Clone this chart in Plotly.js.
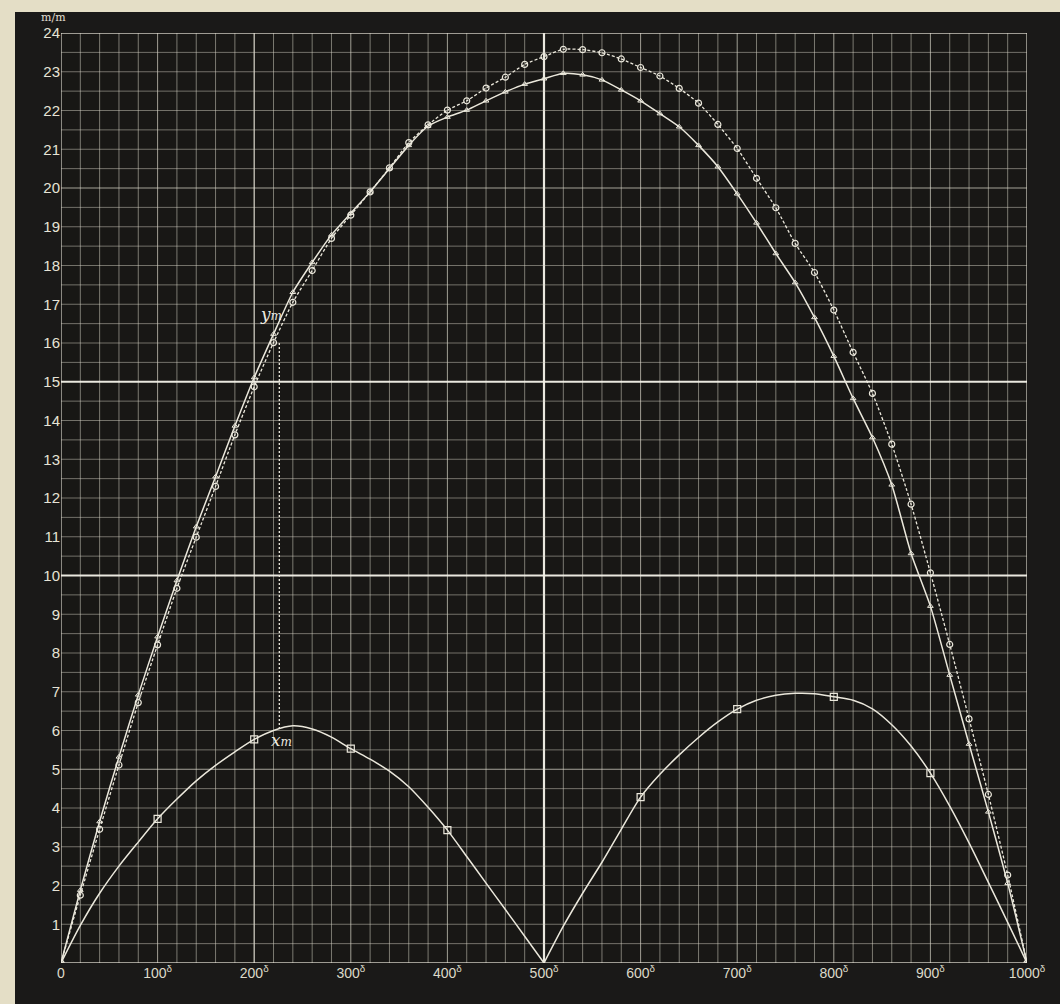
<!DOCTYPE html>
<html><head><meta charset="utf-8">
<script src="https://cdn.plot.ly/plotly-3.0.1.min.js"></script>
<style>
html,body{margin:0;padding:0;background:#e4dec6;width:1060px;height:1004px;overflow:hidden;}
#wrap{position:absolute;left:15px;top:12px;width:1045px;height:992px;background:#1a1918;}
#chart{width:1045px;height:992px;}
</style></head><body><div id="wrap"><div id="chart"></div></div>
<script>
// stations along the abscissa
const xStations = [0,20,40,60,80,100,120,140,160,180,200,220,240,260,280,300,320,340,360,380,400,420,440,460,480,500,520,540,560,580,600,620,640,660,680,700,720,740,760,780,800,820,840,860,880,900,920,940,960,980,1000];
// solid curve with triangle marks
const triY = [0,1.88,3.65,5.32,6.92,8.42,9.87,11.26,12.55,13.86,15.11,16.23,17.31,18.08,18.79,19.35,19.9,20.5,21.1,21.6,21.83,22.01,22.25,22.48,22.68,22.82,22.96,22.92,22.79,22.53,22.25,21.92,21.58,21.10,20.55,19.85,19.10,18.31,17.56,16.66,15.66,14.57,13.56,12.34,10.57,9.21,7.43,5.65,3.9,2.06,0];
// dashed curve with circle marks
const circY = [0,1.75,3.45,5.11,6.72,8.21,9.67,10.99,12.3,13.63,14.87,16.01,17.05,17.87,18.70,19.30,19.9,20.52,21.17,21.63,22.01,22.25,22.58,22.86,23.19,23.39,23.58,23.57,23.49,23.33,23.11,22.89,22.57,22.19,21.64,21.02,20.25,19.49,18.57,17.82,16.85,15.76,14.70,13.39,11.84,10.07,8.22,6.3,4.35,2.27,0];
// lower curve (two arches)
const lowerY = [0,0.97,1.8,2.5,3.12,3.72,4.23,4.7,5.1,5.45,5.77,6.0,6.12,6.04,5.83,5.53,5.26,4.95,4.55,4.02,3.43,2.75,2.06,1.38,0.69,0,0.95,1.8,2.6,3.45,4.28,4.87,5.37,5.82,6.22,6.55,6.78,6.91,6.96,6.95,6.87,6.78,6.56,6.15,5.6,4.9,4.05,3.1,2.08,1.05,0];
// square marks on lower curve
const squareX = [100,200,300,400,600,700,800,900];
const squareY = [3.72,5.77,5.53,3.43,4.28,6.55,6.87,4.9];
// x_m / y_m construction line
const xmLineX = [226,226];
const xmLineY = [16.0,6.02];
// tick labels
const xTickVals = [0,100,200,300,400,500,600,700,800,900,1000];
const xTickText = ['0','100<sup>δ</sup>','200<sup>δ</sup>','300<sup>δ</sup>','400<sup>δ</sup>','500<sup>δ</sup>','600<sup>δ</sup>','700<sup>δ</sup>','800<sup>δ</sup>','900<sup>δ</sup>','1000<sup>δ</sup>'];
const yTickVals = [1,2,3,4,5,6,7,8,9,10,11,12,13,14,15,16,17,18,19,20,21,22,23,24];

const ink = '#ebe8dc';
const shapes = [];
for (let gx = 0; gx <= 1000; gx += 20) {
  let col = 'rgba(215,212,198,0.52)', w = 1;
  if (gx % 100 === 0) { col = 'rgba(225,222,208,0.68)'; }
  if (gx === 200) { col = 'rgba(235,232,220,0.85)'; w = 1.3; }
  if (gx === 500) { col = 'rgba(242,240,230,0.97)'; w = 2.2; }
  if (gx === 0 || gx === 1000) { col = 'rgba(235,232,220,0.85)'; w = 1.3; }
  shapes.push({type:'line', layer:'below', xref:'x', yref:'y', x0:gx, x1:gx, y0:0, y1:24, line:{color:col, width:w}});
}
for (let k = 0; k <= 48; k++) {
  const gy = k/2;
  let col = 'rgba(215,212,198,0.48)', w = 1;
  if (gy % 5 === 0) { col = 'rgba(225,222,208,0.7)'; }
  if (gy === 10 || gy === 15) { col = 'rgba(242,240,230,0.97)'; w = 1.8; }
  if (gy === 0 || gy === 24) { col = 'rgba(235,232,220,0.85)'; w = 1.3; }
  shapes.push({type:'line', layer:'below', xref:'x', yref:'y', x0:0, x1:1000, y0:gy, y1:gy, line:{color:col, width:w}});
}

const lowerLeftX = xStations.slice(0,26), lowerLeftY = lowerY.slice(0,26);
const lowerRightX = xStations.slice(25), lowerRightY = lowerY.slice(25);

const traces = [
  {x:xStations, y:circY, mode:'lines+markers', line:{color:ink, width:1.3, dash:'3px,2px', shape:'spline', smoothing:0.6},
   marker:{symbol:'circle-open', size:6, color:ink, line:{width:1.2}}},
  {x:xStations, y:triY, mode:'lines+markers', line:{color:ink, width:1.5, shape:'spline', smoothing:0.6},
   marker:{symbol:'triangle-up-open', size:5, color:ink, line:{width:1}}},
  {x:lowerLeftX, y:lowerLeftY, mode:'lines', line:{color:ink, width:1.5, shape:'spline', smoothing:0.8}},
  {x:lowerRightX, y:lowerRightY, mode:'lines', line:{color:ink, width:1.5, shape:'spline', smoothing:0.8}},
  {x:squareX, y:squareY, mode:'markers', marker:{symbol:'square-open', size:7, color:ink, line:{width:1.2}}},
  {x:xmLineX, y:xmLineY, mode:'lines', line:{color:ink, width:1.3, dash:'2px,2px'}}
];

const layout = {
  width:1045, height:992,
  margin:{l:45.5, r:33, t:21, b:41},
  paper_bgcolor:'#1a1918', plot_bgcolor:'#181715',
  showlegend:false,
  font:{family:'Liberation Sans, Arial, sans-serif', color:'#ddd9c9'},
  xaxis:{range:[0,1000], tickmode:'array', tickvals:xTickVals, ticktext:xTickText, showgrid:false, zeroline:false,
         ticks:'', showline:false, tickfont:{size:14, color:'#ddd9c9'}, fixedrange:true},
  yaxis:{range:[0,24], tickmode:'array', tickvals:yTickVals, showgrid:false, zeroline:false,
         ticks:'', showline:false, tickfont:{size:15, color:'#e6e3d6', family:'Liberation Sans, Arial, sans-serif'}, fixedrange:true},
  shapes:shapes,
  annotations:[
    {xref:'paper', yref:'paper', x:-0.008, y:1.017, text:'m/m', showarrow:false,
     font:{size:11, color:'#e2dfd2', family:'DejaVu Serif, serif'}, xanchor:'center', yanchor:'middle'},
    {x:217, y:16.75, text:'y<span style="font-size:12px">m</span>', showarrow:false,
     font:{size:17, color:'#eeebe0', family:'DejaVu Serif, serif', style:'italic'}, xanchor:'center', yanchor:'middle'},
    {x:228, y:5.75, text:'x<span style="font-size:12px">m</span>', showarrow:false,
     font:{size:17, color:'#eeebe0', family:'DejaVu Serif, serif', style:'italic'}, xanchor:'center', yanchor:'middle'}
  ]
};
Plotly.newPlot('chart', traces, layout, {displayModeBar:false, staticPlot:true});
</script></body></html>
